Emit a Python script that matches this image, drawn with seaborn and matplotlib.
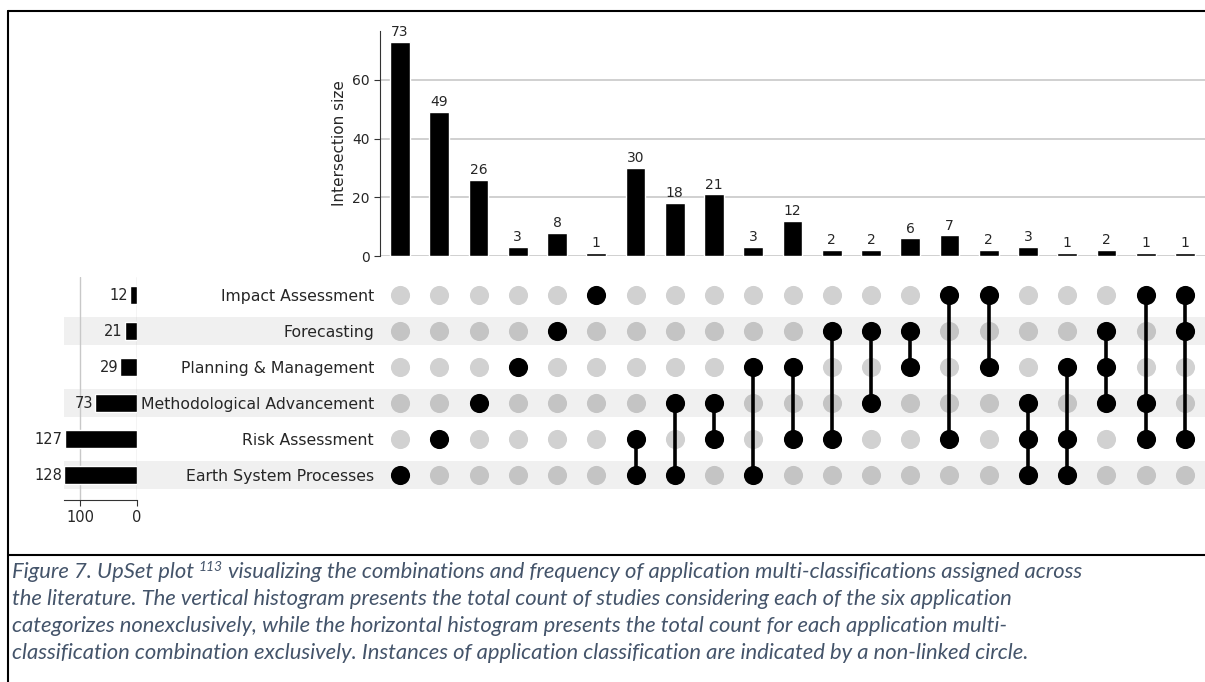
import pandas as pd
import matplotlib.pyplot as plt
import seaborn as sns
from matplotlib.patches import Rectangle
from matplotlib.lines import Line2D
from matplotlib.transforms import blended_transform_factory

# ---- Data ----
categories = ["Impact Assessment", "Forecasting", "Planning & Management",
              "Methodological Advancement", "Risk Assessment", "Earth System Processes"]
category_totals = [12, 21, 29, 73, 127, 128]

# membership of each intersection column (short codes, see code_names)
code_names = {"I": "Impact Assessment", "F": "Forecasting", "P": "Planning & Management",
              "M": "Methodological Advancement", "R": "Risk Assessment", "E": "Earth System Processes"}
intersections = ["E", "R", "M", "P", "F", "I", "RE", "ME", "MR", "PE", "PR",
                 "FR", "FM", "FP", "IR", "IP", "MRE", "PRE", "FPM", "IMR", "IFR"]
intersection_sizes = [73, 49, 26, 3, 8, 1, 30, 18, 21, 3, 12, 2, 2, 6, 7, 2, 3, 1, 2, 1, 1]

caption_lines = [
    "the literature. The vertical histogram presents the total count of studies considering each of the six application",
    "categorizes nonexclusively, while the horizontal histogram presents the total count for each application multi-",
    "classification combination exclusively. Instances of application classification are indicated by a non-linked circle.",
]

sns.set_style("white")
plt.rcParams["font.family"] = ["DejaVu Sans"]
W, H = 1205, 682
fig = plt.figure(figsize=(W / 100, H / 100), dpi=100)


def box(x0, y0, x1, y1):
    return [x0 / W, 1 - y1 / H, (x1 - x0) / W, (y1 - y0) / H]


ax_bar = fig.add_axes(box(380.4, 31, 1204.6, 256))
ax_mat = fig.add_axes(box(380.4, 277, 1204.6, 493))
ax_tot = fig.add_axes(box(64, 277, 137, 500))
for ax in (ax_bar, ax_mat, ax_tot):
    ax.set_facecolor("none")

grid_col = "#c8c8c8"

# ---- Intersection size bars ----
labels = [" & ".join(code_names[c] for c in combo) for combo in intersections]
sns.barplot(x=labels, y=intersection_sizes, order=labels, color="black",
            saturation=1, width=0.5, ax=ax_bar)
ax_bar.set_xlim(-0.5, len(labels) - 0.5)
ax_bar.set_ylim(0, max(intersection_sizes) * 1.05)
ax_bar.set_xticks([])
ax_bar.set_xlabel("")
ax_bar.set_yticks([0, 20, 40, 60])
ax_bar.set_ylabel("Intersection size", fontsize=11)
ax_bar.tick_params(axis="y", labelsize=10, length=4, left=True, color="#333333")
for s in ("top", "right", "bottom"):
    ax_bar.spines[s].set_visible(False)
ax_bar.spines["left"].set_color("#333333")
ax_bar.yaxis.grid(True, color=grid_col, lw=1.2)
ax_bar.set_axisbelow(True)
ax_bar.bar_label(ax_bar.containers[0], padding=2, fontsize=10)

# ---- Matrix of dots ----
rows = []
for col, combo in enumerate(intersections):
    members = [code_names[c] for c in combo]
    for r, cat in enumerate(categories):
        rows.append({"col": col, "row": r, "member": cat in members})
mat = pd.DataFrame(rows)

sns.scatterplot(data=mat[~mat["member"]], x="col", y="row", color="black", alpha=0.18,
                s=190, linewidth=0, legend=False, ax=ax_mat)
on = mat[mat["member"]]
span = on.groupby("col")["row"].agg(["min", "max"])
span = span[span["min"] != span["max"]]
ax_mat.vlines(span.index, span["min"], span["max"], color="black", lw=2.6, zorder=2)
sns.scatterplot(data=on, x="col", y="row", color="black", s=190, linewidth=0,
                legend=False, ax=ax_mat, zorder=3)
ax_mat.set_xlim(-0.5, len(labels) - 0.5)
ax_mat.set_ylim(len(categories) - 0.5, -0.5)
ax_mat.set_xticks([])
ax_mat.set_yticks(range(len(categories)))
ax_mat.set_yticklabels(categories, fontsize=11.3)
ax_mat.tick_params(axis="y", length=0, pad=4.6)
ax_mat.set_xlabel("")
ax_mat.set_ylabel("")
for s in ax_mat.spines.values():
    s.set_visible(False)

# shaded stripes on alternate rows
trans = blended_transform_factory(fig.transFigure, ax_mat.transData)
for r in range(1, len(categories), 2):
    fig.add_artist(Rectangle((64 / W, r - 0.4), (W - 64) / W, 0.8, transform=trans,
                             facecolor="#f0f0f0", edgecolor="none", zorder=-1))

# ---- Set totals ----
sns.barplot(x=category_totals, y=categories, order=categories, orient="h", color="black",
            saturation=1, width=0.5, ax=ax_tot)
ax_tot.set_xlim(128, 0)
ax_tot.set_ylim(5.694, -0.5)
ax_tot.set_yticks([])
ax_tot.set_xticks([0, 100])
ax_tot.set_xlabel("")
ax_tot.set_ylabel("")
ax_tot.tick_params(axis="x", labelsize=10.5, length=4, bottom=True, color="#333333")
for s in ("top", "right", "left"):
    ax_tot.spines[s].set_visible(False)
ax_tot.spines["bottom"].set_color("#333333")
ax_tot.xaxis.grid(True, color=grid_col, lw=1)
ax_tot.set_axisbelow(True)
for i, v in enumerate(category_totals):
    ax_tot.annotate(str(v), (v, i), xytext=(-1.5, 0), textcoords="offset points",
                    ha="right", va="center", fontsize=10.5, annotation_clip=False)

# ---- Frame lines ----
for xs, ys in [([8, W], [11, 11]), ([8, 8], [11, H]), ([8, W], [555, 555])]:
    fig.add_artist(Line2D([x / W for x in xs], [1 - y / H for y in ys], color="black",
                          lw=1.5, transform=fig.transFigure))

# ---- Caption ----
cap = dict(family="Lato", style="italic", color="#44546A", fontsize=15.8)
renderer = fig.canvas.get_renderer()
base = [578, 605, 632, 659]
t1 = fig.text(12 / W, 1 - base[0] / H, "Figure 7. UpSet plot", **cap)
bb = t1.get_window_extent(renderer)
sup = fig.text((bb.x1 + 5) / W, 1 - (base[0] - 7) / H, "113",
               **{**cap, "fontsize": 10})
bb2 = sup.get_window_extent(renderer)
fig.text((bb2.x1 + 5) / W, 1 - base[0] / H,
         "visualizing the combinations and frequency of application multi-classifications assigned across",
         **cap)
for y, line in zip(base[1:], caption_lines):
    fig.text(12 / W, 1 - y / H, line, **cap)

fig.savefig("out.png", dpi=100)
